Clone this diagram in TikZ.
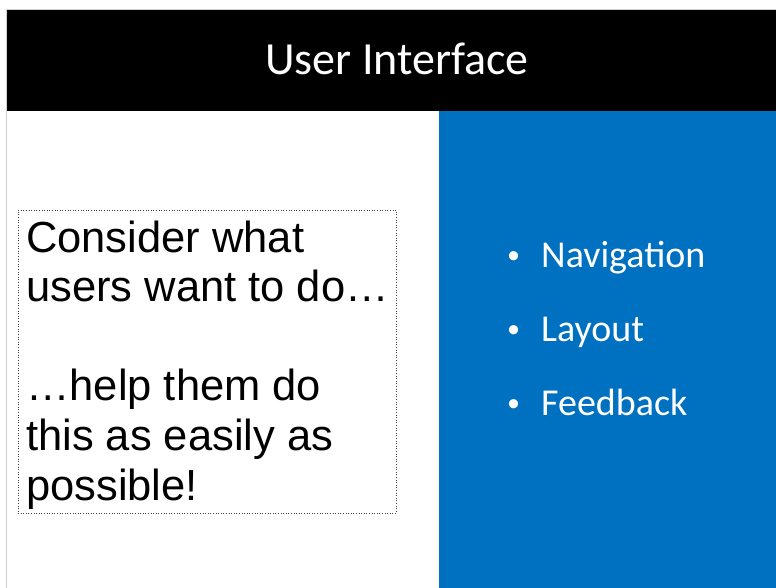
\documentclass[tikz,border=0pt]{standalone}
\usepackage{fontspec}
\newfontfamily\calib{Carlito}
\newfontfamily\arialx{Liberation Sans}
\definecolor{slideblue}{RGB}{0,112,192}
\tikzset{item/.style={anchor=base west, inner sep=0pt, text=white, font=\calib\fontsize{38}{38}\selectfont}}
\tikzset{frame/.style={color=black!18,line width=.75}}
\newcommand{\dotmark}{\makebox[34pt][l]{\raisebox{4pt}{\fontsize{26}{26}\selectfont\textbullet}}}

\begin{document}
\begin{tikzpicture}[x=1pt,y=-1pt]
  \useasboundingbox (0,0) rectangle (776,588);
  \draw[frame] (6.5,588) -- (6.5,9.5) -- (776,9.5);
  \fill[black] (7,10) rectangle (776,111);
  \fill[slideblue] (439,111) rectangle (776,588);

  \node[anchor=base, inner sep=0pt, text=white, font=\calib\fontsize{46}{46}\selectfont] (title) at (397,75) {User Interface};

  \node[draw=black!75, dotted, line width=.6, minimum width=378pt, minimum height=303pt, inner sep=0pt] (box) at (207,361.5) {};
  % base anchor sits on the last line
  \node[anchor=base west, align=left, inner sep=0pt, font=\arialx\fontsize{43.5}{49.6}\selectfont] (msg) at (26,500)
    {Consider what\\users want to do…\\[49.6pt]…help them do\\this as easily as\\possible!};

  \foreach \t [count=\i] in {Navigation,Layout,Feedback} {
    \node[item] (b\i) at (507,193+74*\i) {\dotmark\t};
  }
\end{tikzpicture}
\end{document}
